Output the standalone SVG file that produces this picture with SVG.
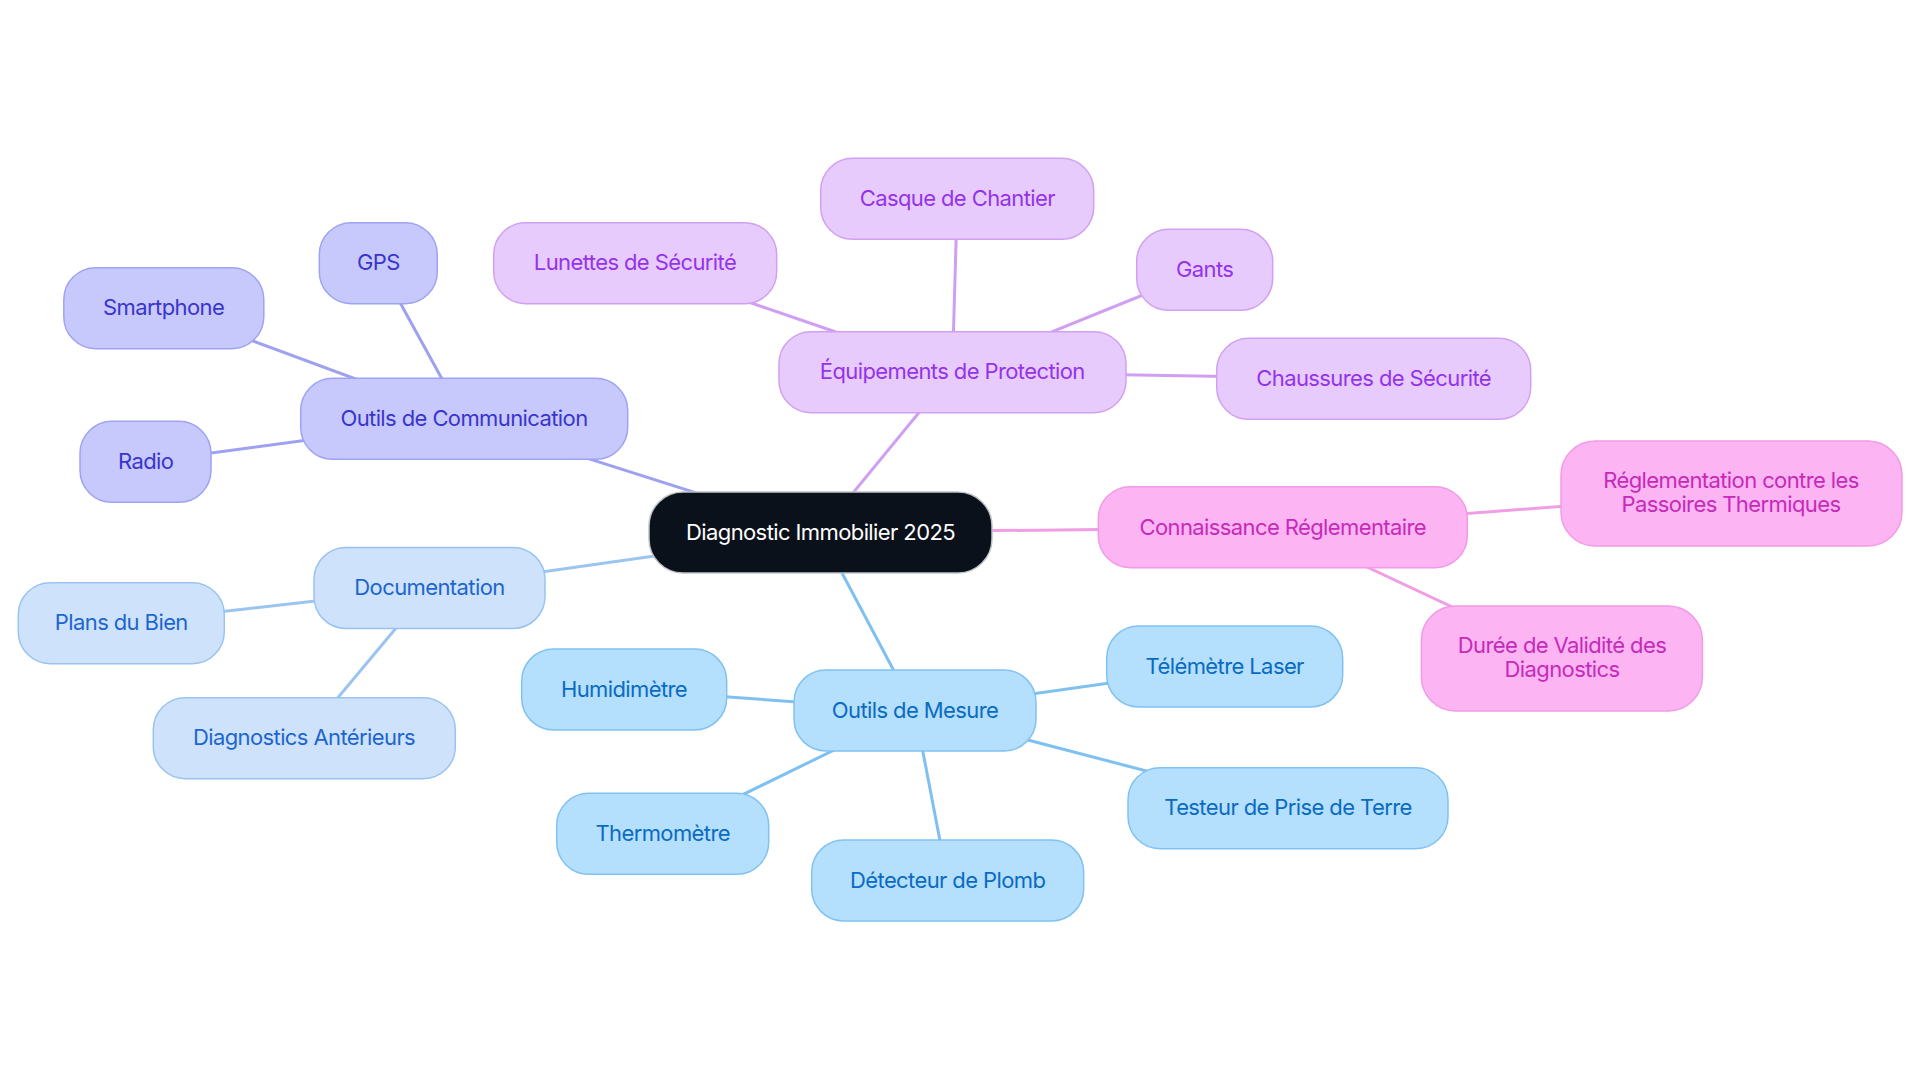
<svg xmlns="http://www.w3.org/2000/svg" width="1920" height="1083" viewBox="0 0 1920 1083">
<style>
  text { font-family: Inter, "Noto Sans", "Liberation Sans", sans-serif; font-size: 22px; letter-spacing: -0.6px; text-anchor: middle; }
  .ln { fill: none; stroke-width: 3; stroke-linecap: round; }
  .comm rect { fill: #C7C9FC; stroke: #9EA3F3; stroke-width: 1.5; }
  .comm text { fill: #3A35CC; }
  .prot rect { fill: #E8CBFD; stroke: #D2A0F2; stroke-width: 1.5; }
  .prot text { fill: #9333EA; }
  .regl rect { fill: #FCB4F3; stroke: #F29AE6; stroke-width: 1.5; }
  .regl text { fill: #C62AB8; }
  .doc rect { fill: #CEE3FB; stroke: #99C3F0; stroke-width: 1.5; }
  .doc text { fill: #1D66CF; }
  .mes rect { fill: #B4DFFD; stroke: #80C2F1; stroke-width: 1.5; }
  .mes text { fill: #0A6BC2; }
  .root rect { fill: #0B111A; stroke: #BFC3C8; stroke-width: 1.5; }
  .root text { fill: #FFFFFF; }
  .lc { stroke: #9EA1F0; }
  .lp { stroke: #D09FF2; }
  .lr { stroke: #F09DE4; }
  .ld { stroke: #9BC4F1; }
  .lm { stroke: #7EC1F0; }
</style>
<rect x="0" y="0" width="1920" height="1083" fill="#FFFFFF"/>
<g id="connectors">
  <line class="ln lc" x1="820.5" y1="532.5" x2="464" y2="419"/>
  <line class="ln lp" x1="820.5" y1="532.5" x2="952.3" y2="372"/>
  <line class="ln lr" x1="820.5" y1="532.5" x2="1282.8" y2="527.5"/>
  <line class="ln ld" x1="820.5" y1="532.5" x2="429.5" y2="588"/>
  <line class="ln lm" x1="820.5" y1="532.5" x2="915" y2="710.5"/>
  <line class="ln lc" x1="464" y1="419" x2="378.3" y2="263"/>
  <line class="ln lc" x1="464" y1="419" x2="163.6" y2="308"/>
  <line class="ln lc" x1="464" y1="419" x2="145.7" y2="461.7"/>
  <line class="ln lp" x1="952.3" y1="372" x2="635" y2="263"/>
  <line class="ln lp" x1="952.3" y1="372" x2="957.3" y2="198.8"/>
  <line class="ln lp" x1="952.3" y1="372" x2="1204.7" y2="270"/>
  <line class="ln lp" x1="952.3" y1="372" x2="1373.7" y2="379"/>
  <line class="ln lr" x1="1282.8" y1="527.5" x2="1731" y2="493.5"/>
  <line class="ln lr" x1="1282.8" y1="527.5" x2="1562" y2="658.5"/>
  <line class="ln ld" x1="429.5" y1="588" x2="121.3" y2="623"/>
  <line class="ln ld" x1="429.5" y1="588" x2="304" y2="738.3"/>
  <line class="ln lm" x1="915" y1="710.5" x2="624" y2="689.5"/>
  <line class="ln lm" x1="915" y1="710.5" x2="1224.7" y2="666.7"/>
  <line class="ln lm" x1="915" y1="710.5" x2="1288" y2="808"/>
  <line class="ln lm" x1="915" y1="710.5" x2="662.7" y2="833.8"/>
  <line class="ln lm" x1="915" y1="710.5" x2="947.7" y2="881"/>
</g>
<g id="root" class="root"><rect x="649" y="492" width="343" height="81" rx="34"/><text x="820.5" y="540">Diagnostic Immobilier 2025</text></g>
<g id="comm" class="comm"><rect x="300.7" y="378.3" width="327" height="81" rx="32"/><text x="464" y="426">Outils de Communication</text></g>
<g id="gps" class="comm"><rect x="319.3" y="222.7" width="118" height="81" rx="32"/><text x="378.3" y="270">GPS</text></g>
<g id="smartphone" class="comm"><rect x="63.8" y="267.7" width="200" height="81" rx="32"/><text x="163.6" y="315">Smartphone</text></g>
<g id="radio" class="comm"><rect x="80" y="421.3" width="131" height="81" rx="32"/><text x="145.7" y="469">Radio</text></g>
<g id="prot" class="prot"><rect x="779" y="331.7" width="347" height="81" rx="32"/><text x="952.3" y="379">Équipements de Protection</text></g>
<g id="lunettes" class="prot"><rect x="493.7" y="222.7" width="283" height="81" rx="32"/><text x="635" y="270">Lunettes de Sécurité</text></g>
<g id="casque" class="prot"><rect x="820.7" y="158.3" width="273" height="81" rx="32"/><text x="957.3" y="206">Casque de Chantier</text></g>
<g id="gants" class="prot"><rect x="1136.7" y="229.3" width="136" height="81" rx="32"/><text x="1204.7" y="277">Gants</text></g>
<g id="chaussures" class="prot"><rect x="1216.7" y="338.3" width="314" height="81" rx="32"/><text x="1373.7" y="386">Chaussures de Sécurité</text></g>
<g id="regl" class="regl"><rect x="1098.3" y="486.7" width="369" height="81" rx="32"/><text x="1282.8" y="534.5">Connaissance Réglementaire</text></g>
<g id="passoires" class="regl"><rect x="1561" y="441" width="341" height="105" rx="34"/><text x="1731" y="488.3">Réglementation contre les</text><text x="1731" y="511.7">Passoires Thermiques</text></g>
<g id="duree" class="regl"><rect x="1421.4" y="606" width="281" height="105" rx="34"/><text x="1562" y="653.3">Durée de Validité des</text><text x="1562" y="676.7">Diagnostics</text></g>
<g id="doc" class="doc"><rect x="314" y="547.5" width="231" height="81" rx="32"/><text x="429.5" y="595">Documentation</text></g>
<g id="plans" class="doc"><rect x="18.3" y="582.7" width="206" height="81" rx="32"/><text x="121.3" y="630">Plans du Bien</text></g>
<g id="anterieurs" class="doc"><rect x="153.3" y="697.7" width="302" height="81" rx="32"/><text x="304" y="745.3">Diagnostics Antérieurs</text></g>
<g id="mes" class="mes"><rect x="794" y="670" width="242" height="81" rx="32"/><text x="915" y="717.5">Outils de Mesure</text></g>
<g id="humid" class="mes"><rect x="521.7" y="649" width="205" height="81" rx="32"/><text x="624" y="696.5">Humidimètre</text></g>
<g id="telemetre" class="mes"><rect x="1106.7" y="626" width="236" height="81" rx="32"/><text x="1224.7" y="673.7">Télémètre Laser</text></g>
<g id="testeur" class="mes"><rect x="1128" y="767.7" width="320" height="81" rx="32"/><text x="1288" y="815">Testeur de Prise de Terre</text></g>
<g id="thermo" class="mes"><rect x="556.7" y="793.3" width="212" height="81" rx="32"/><text x="662.7" y="840.8">Thermomètre</text></g>
<g id="detecteur" class="mes"><rect x="811.7" y="840" width="272" height="81" rx="32"/><text x="947.7" y="888">Détecteur de Plomb</text></g>
</svg>
